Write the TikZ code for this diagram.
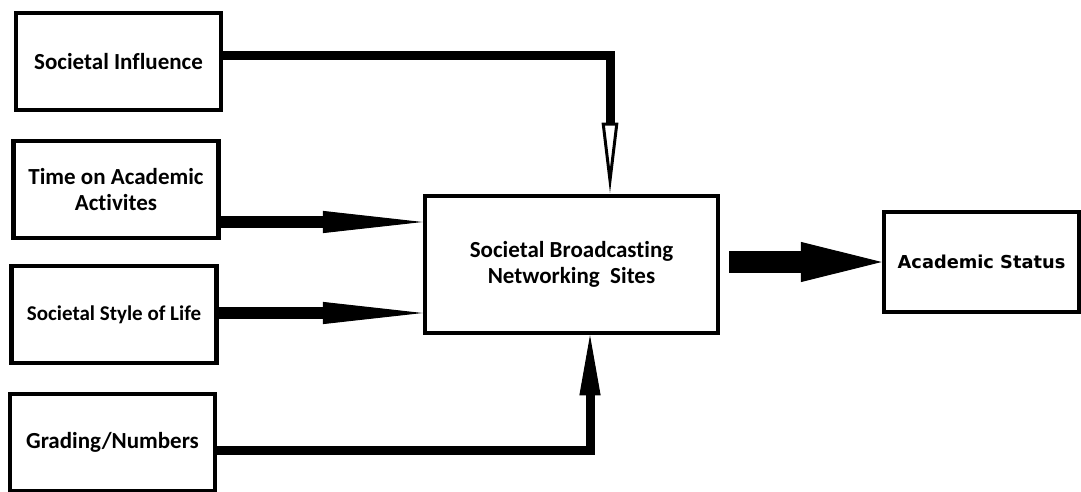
\documentclass[tikz,border=0pt]{standalone}
\usepackage{fontspec}
\setmainfont{Carlito}[Ligatures=NoCommon]
\newfontfamily\statusfont{DejaVu Sans}
\usetikzlibrary{arrows.meta,calc,positioning}

\begin{document}
\begin{tikzpicture}[x=1pt,y=1pt]
  \tikzset{ box/.style={draw,line width=4.5pt,align=center,font=\bfseries\fontsize{23}{26}\selectfont},
    inbox/.style={box,minimum width=205pt,minimum height=97pt},
    link/.style={line width=9pt},
    fatlink/.style={line width=12pt},
  }
  \useasboundingbox (0,0) rectangle (1081,491);
  \node[inbox] (1) at (118.5,429.5) {Societal Influence};
  \node[inbox] (2) at (116,301.5) {Time on Academic\\Activites};
  \node[inbox] (3) at (114,176.5) {\fontsize{21}{25}\selectfont Societal Style of Life};
  \node[inbox] (4) at (112.5,48.5) {Grading/Numbers};
  \node[box,minimum width=293pt,minimum height=137pt] (5) at (571.5,226.5) {Societal Broadcasting\\Networking\ \ Sites};
  \node[box,minimum width=195pt,minimum height=100pt,font=\statusfont\bfseries\fontsize{17.8}{22}\selectfont] (6) at (981.5,229) {Academic Status};

  % the links into the middle box
  \draw[link,-{Triangle[open,length=71pt,width=16pt,line width=3pt]}] ([yshift=6pt]1.east) -| ([xshift=38.5pt]5.north);
  \draw[fatlink,-{Triangle[length=100pt,width=22pt,line width=1pt]}] ([yshift=-32.5pt]2.east) -- ([yshift=-32.5pt]2.east -| 5.west);
  \draw[fatlink,-{Triangle[length=100pt,width=22pt,line width=1pt]}] ([yshift=1.5pt]3.east) -- ([yshift=1.5pt]3.east -| 5.west);
  \draw[link,-{Triangle[length=60pt,width=21pt,line width=1pt]}] ([yshift=-7.5pt]4.east) -| ([xshift=18.5pt]5.south);
  % the link out
  \draw[line width=22pt,-{Triangle[length=81pt,width=40pt,line width=1pt]}] ([xshift=9pt]5.east |- 6.west) -- (6.west);
\end{tikzpicture}
\end{document}
